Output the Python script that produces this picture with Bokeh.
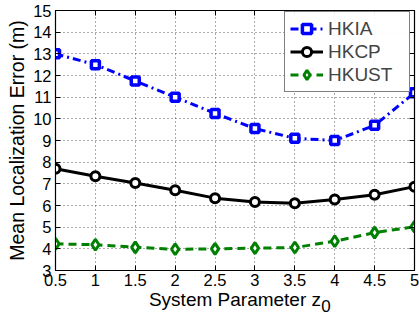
from bokeh.plotting import figure
from bokeh.models import FixedTicker, LinearAxis, Range1d, Legend, LegendItem
from bokeh.embed import file_html
from bokeh.resources import INLINE

z0 = [0.5, 1, 1.5, 2, 2.5, 3, 3.5, 4, 4.5, 5]
hkia = [13.0, 12.5, 11.75, 11.0, 10.25, 9.55, 9.1, 9.0, 9.7, 11.2]
hkcp = [7.7, 7.35, 7.04, 6.7, 6.34, 6.16, 6.1, 6.28, 6.5, 6.87]
hkust = [4.23, 4.19, 4.07, 3.98, 4.0, 4.03, 4.06, 4.35, 4.75, 5.02]
x_ticks = [0.5, 1, 1.5, 2, 2.5, 3, 3.5, 4, 4.5, 5]
x_tick_labels = ["0.5", "1", "1.5", "2", "2.5", "3", "3.5", "4", "4.5", "5"]
y_ticks = list(range(3, 16))
x_title = "System Parameter z"
x_title_sub = "0"
x_title_sub_pos = 3.89  # horizontal anchor of the subscript, in axis units

FONT = "Liberation Sans"

p = figure(width=419, height=319, output_backend="svg", toolbar_location=None,
           x_range=Range1d(0.5, 5), y_range=Range1d(3, 15),
           min_border_left=55, min_border_right=5, min_border_top=10, min_border_bottom=49)
p.outline_line_color = "black"
p.outline_line_width = 1.2

for ax in (p.xaxis[0], p.yaxis[0]):
    ax.major_tick_in = 5
    ax.major_tick_out = 0
    ax.minor_tick_line_color = None
    ax.axis_line_color = "black"
    ax.major_tick_line_color = "black"
    ax.major_label_text_font = FONT
    ax.major_label_text_font_size = "16.5px"
    ax.major_label_text_color = "black"
    ax.axis_label_text_font = FONT
    ax.axis_label_text_font_size = "19px"
    ax.axis_label_text_font_style = "normal"
    ax.axis_label_text_color = "black"

p.xaxis[0].ticker = FixedTicker(ticks=x_ticks)
p.xaxis[0].major_label_overrides = {t: l for t, l in zip(x_ticks, x_tick_labels)}
p.xaxis[0].major_label_standoff = 3
p.xaxis[0].axis_label = x_title
p.xaxis[0].axis_label_standoff = 0
p.yaxis[0].ticker = FixedTicker(ticks=y_ticks)
p.yaxis[0].major_label_standoff = 4
p.yaxis[0].axis_label = "Mean Localization Error (m)"
p.yaxis[0].axis_label_text_font_size = "19.5px"
p.yaxis[0].axis_label_standoff = 2

for loc, ticks in (("right", y_ticks), ("above", x_ticks)):
    ax = LinearAxis(ticker=FixedTicker(ticks=ticks))
    ax.major_label_overrides = {t: "" for t in ticks}
    ax.major_tick_in = 5
    ax.major_tick_out = 0
    ax.minor_tick_line_color = None
    ax.axis_line_color = "black"
    ax.major_tick_line_color = "black"
    ax.major_label_standoff = 0
    p.add_layout(ax, loc)

# subscript "0" of the x-axis title, drawn as a lone tick label of an extra axis
sub_ax = LinearAxis(ticker=FixedTicker(ticks=[x_title_sub_pos]))
sub_ax.major_label_overrides = {x_title_sub_pos: x_title_sub}
sub_ax.major_tick_in = 0
sub_ax.major_tick_out = 0
sub_ax.major_tick_line_color = None
sub_ax.minor_tick_line_color = None
sub_ax.axis_line_color = None
sub_ax.major_label_standoff = -13
sub_ax.major_label_text_font = FONT
sub_ax.major_label_text_font_size = "17px"
sub_ax.major_label_text_color = "black"
p.add_layout(sub_ax, "below")

p.xgrid.ticker = FixedTicker(ticks=x_ticks)
p.ygrid.ticker = FixedTicker(ticks=y_ticks)
for g in (p.xgrid[0], p.ygrid[0]):
    g.grid_line_color = "#555555"
    g.grid_line_dash = "1 3"
    g.grid_line_width = 1

blue = "#0000ff"
green = "#008000"
l1 = p.line(z0, hkia, line_color=blue, line_width=3, line_dash="8 4 2 4")
m1 = p.scatter(z0, hkia, marker="square", size=8, line_color=blue, line_width=3.5, fill_color="white")
l2 = p.line(z0, hkcp, line_color="black", line_width=3)
m2 = p.scatter(z0, hkcp, marker="circle", size=9, line_color="black", line_width=3, fill_color="white")
l3 = p.line(z0, hkust, line_color=green, line_width=3, line_dash="8 5")
m3 = p.scatter(z0, hkust, marker="diamond", size=11, line_color=green, line_width=3, fill_color="white")

legend = Legend(items=[LegendItem(label="HKIA", renderers=[l1, m1]),
                       LegendItem(label="HKCP", renderers=[l2, m2]),
                       LegendItem(label="HKUST", renderers=[l3, m3])],
                location=(229, 178))
legend.label_text_font = FONT
legend.label_text_font_size = "19px"
legend.border_line_color = "black"
legend.border_line_width = 1.2
legend.glyph_width = 33
legend.label_standoff = 5
legend.label_width = 76
legend.spacing = 0
legend.padding = 5
legend.margin = 0
legend.label_height = 23
legend.glyph_height = 23
p.add_layout(legend)

open("out.html", "w").write(file_html(p, INLINE))
